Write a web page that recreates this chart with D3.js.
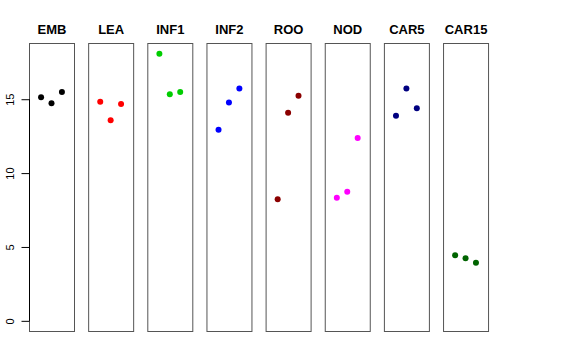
<!DOCTYPE html>
<html>
<head>
<meta charset="utf-8">
<script src="https://cdn.jsdelivr.net/npm/d3@7"></script>
<style>
  body { margin: 0; background: #fff; }
  text { font-family: "Liberation Sans", Arial, sans-serif; }
</style>
</head>
<body>
<svg width="576" height="360"></svg>
<script>
// tissues and their three replicate values
var tissues = ["EMB", "LEA", "INF1", "INF2", "ROO", "NOD", "CAR5", "CAR15"];
var colors = ["#000000", "#FF0000", "#00CD00", "#0000FF", "#8B0000", "#FF00FF", "#000080", "#006400"];
var values = [
    [15.1, 14.7, 15.45],
    [14.8, 13.55, 14.65],
    [18.05, 15.3, 15.45],
    [12.9, 14.75, 15.7],
    [8.2, 14.05, 15.2],
    [8.3, 8.7, 12.35],
    [13.85, 15.7, 14.35],
    [4.4, 4.2, 3.9]
];
var yTicks = [0, 5, 10, 15];

var svg = d3.select("svg");

var panelLeft = 29;
var panelStep = 59.15;
var panelWidth = 45;
var panelTop = 43;
var panelBottom = 331;

// y range 0..max with R style 4% padding
var ymax = d3.max(values, function(d){ return d3.max(d); });
var pad = ymax * 0.04;
var Yscale = d3.scaleLinear()
    .domain([-pad, ymax + pad])
    .range([panelBottom, panelTop]);

for(var i = 0; i < tissues.length; i++)
{
    var x0 = panelLeft + i * panelStep;
    var Xscale = d3.scaleLinear()
        .domain([-0.16, 4.16])
        .range([x0, x0 + panelWidth]);

    var g = svg.append("g");

    //Box
    g.append("rect")
        .attr("x", x0 + 0.5)
        .attr("y", panelTop + 0.5)
        .attr("width", panelWidth)
        .attr("height", panelBottom - panelTop)
        .style("fill", "none")
        .style("stroke", "#555")
        .style("stroke-width", 1);

    //Title
    g.append("text")
        .attr("x", x0 + panelWidth / 2 + 0.5)
        .attr("y", 34)
        .style("text-anchor", "middle")
        .style("font-weight", "bold")
        .style("font-size", "13px")
        .text(tissues[i]);

    //Points
    g.selectAll("circle")
        .data(values[i])
        .enter()
        .append("circle")
        .attr("cx", function(d, j){ return Xscale(j + 1); })
        .attr("cy", function(d){ return Yscale(d); })
        .attr("r", 3)
        .style("fill", colors[i]);
}

//YAxis on first panel
var yaxis = d3.axisLeft(Yscale)
    .tickValues(yTicks)
    .tickSize(8)
    .tickPadding(4)
    .tickSizeOuter(0);

var ax = svg.append("g")
    .attr("transform", "translate(" + (panelLeft + 0.5) + ",0.5)")
    .call(yaxis);

ax.select(".domain")
    .attr("d", "M0," + Yscale(0) + "V" + Yscale(15))
    .style("stroke", "#000");

ax.selectAll(".tick line").style("stroke", "#000");

ax.selectAll(".tick text")
    .attr("transform", "rotate(-90)")
    .attr("x", 0)
    .attr("y", -16)
    .attr("dy", "0")
    .style("text-anchor", "middle")
    .style("font-size", "11px")
    .style("font-family", "Liberation Sans, Arial, sans-serif")
    .style("fill", "#000");
</script>
</body>
</html>
